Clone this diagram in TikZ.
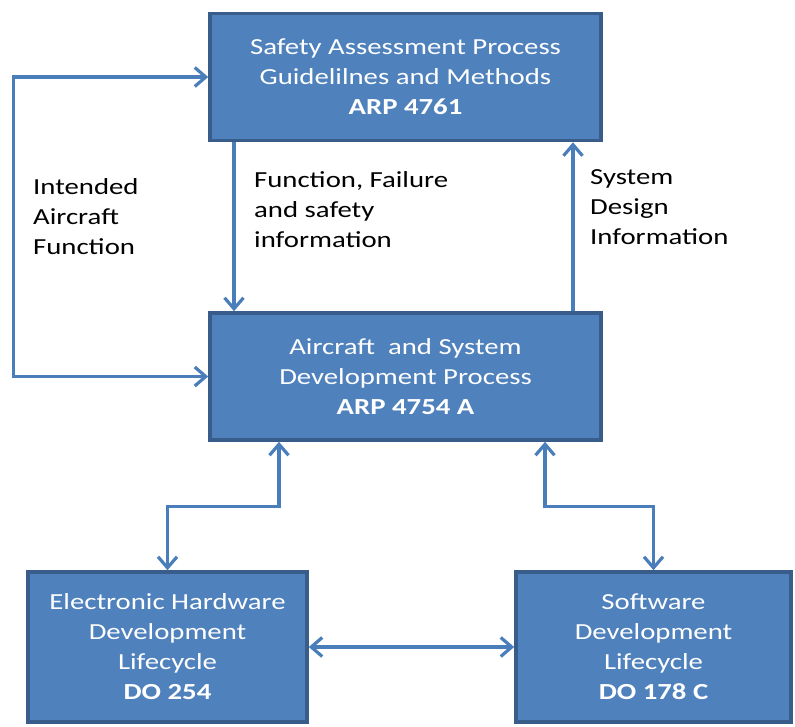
\documentclass[tikz,border=0pt]{standalone}
\usepackage{fontspec}
\setmainfont{Carlito}[FakeStretch=1.25]
\usetikzlibrary{arrows.meta}
\definecolor{boxfill}{HTML}{4F81BD}
\definecolor{boxline}{HTML}{385D8A}
\definecolor{arrcol}{HTML}{4A7EBB}
\begin{document}
\begin{tikzpicture}[x=1pt,y=-1pt,
  box/.style={draw=boxline, line width=3.6pt, fill=boxfill, text=white, align=center,
    font=\fontsize{23}{30}\selectfont, inner sep=0pt},
  lab/.style={align=left, font=\fontsize{23}{30}\selectfont, inner sep=0pt, anchor=west, text=black},
  arr/.style={draw=arrcol, line width=3.2pt,
    arrows={-Straight Barb[length=11pt,width=19pt,line width=3.2pt]}},
  darr/.style={draw=arrcol, line width=3.2pt,
    arrows={Straight Barb[length=11pt,width=19pt,line width=3.2pt]-Straight Barb[length=11pt,width=19pt,line width=3.2pt]}}
]
\useasboundingbox (0,0) rectangle (795,726);

\node[box, minimum width=391pt, minimum height=127pt] (top) at (405.5,77)
  {Safety Assessment Process\\Guidelilnes and Methods\\\textbf{ARP 4761}};
\node[box, minimum width=391pt, minimum height=127pt] (mid) at (405.5,376.5)
  {Aircraft\ \ and System\\Development\ Process\\\textbf{ARP 4754 A}};
\node[box, minimum width=279pt, minimum height=150pt] (hw) at (167.5,647)
  {Electronic Hardware\\Development\\Lifecycle\\\textbf{DO 254}};
\node[box, minimum width=275pt, minimum height=150pt] (sw) at (653.5,647)
  {Software\\Development\\Lifecycle\\\textbf{DO 178 C}};

\node[lab] (lif) at (33,217) {Intended\\Aircraft\\Function};
\node[lab] (lff) at (254,210) {Function, Failure\\and safety\\information};
\node[lab] (lsd) at (590,207) {System\\Design\\Information};

\draw[darr] (top.west) -- ++(-195,0) |- (mid.west);
\draw[arr] ([xshift=-171.5pt]top.south) -- ([xshift=-171.5pt]mid.north);
\draw[arr] ([xshift=167.5pt]mid.north) -- ([xshift=167.5pt]top.south);
\draw[darr] ([xshift=-126.5pt]mid.south) -- ++(0,65) -| (hw.north);
\draw[darr] ([xshift=139.5pt]mid.south) -- ++(0,65) -| (sw.north);
\draw[darr] (hw.east) -- (sw.west);
\end{tikzpicture}
\end{document}
